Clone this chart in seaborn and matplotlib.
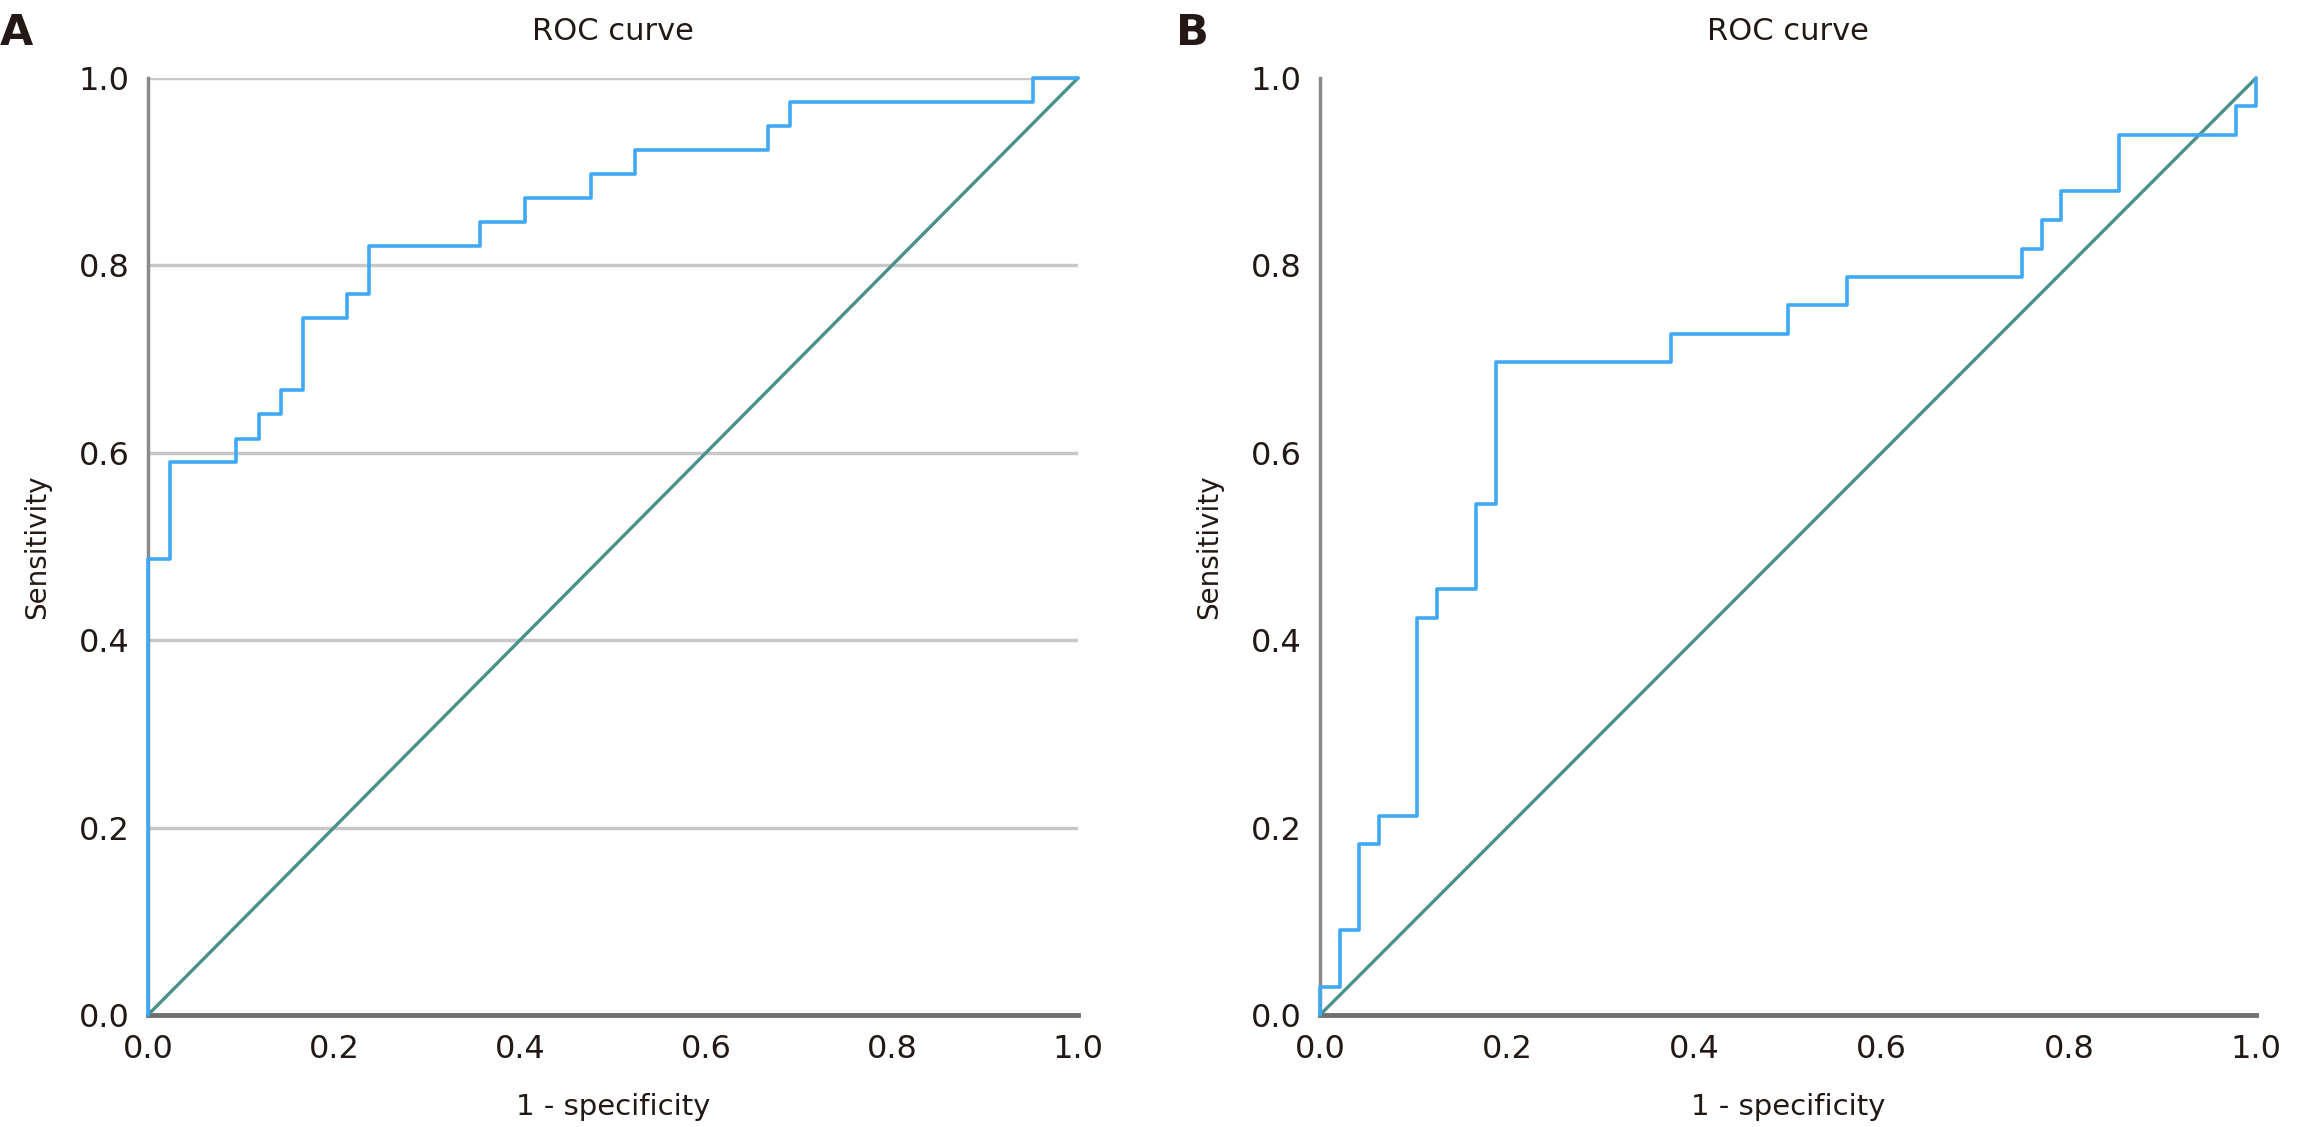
import pandas as pd
import seaborn as sns
import matplotlib.pyplot as plt

# ROC step vertices
fpr_a = [0, 0, 0.024, 0.024, 0.095, 0.095, 0.119, 0.119, 0.143, 0.143, 0.167, 0.167,
         0.214, 0.214, 0.238, 0.238, 0.357, 0.357, 0.405, 0.405, 0.476, 0.476,
         0.524, 0.524, 0.667, 0.667, 0.690, 0.690, 0.952, 0.952, 1.0]
tpr_a = [0, 0.487, 0.487, 0.590, 0.590, 0.615, 0.615, 0.641, 0.641, 0.667, 0.667,
         0.744, 0.744, 0.769, 0.769, 0.821, 0.821, 0.846, 0.846, 0.872, 0.872,
         0.897, 0.897, 0.923, 0.923, 0.949, 0.949, 0.974, 0.974, 1.0, 1.0]

fpr_b = [0, 0, 0.021, 0.021, 0.042, 0.042, 0.063, 0.063, 0.104, 0.104, 0.125, 0.125,
         0.167, 0.167, 0.188, 0.188, 0.375, 0.375, 0.5, 0.5, 0.563, 0.563,
         0.75, 0.75, 0.771, 0.771, 0.792, 0.792, 0.854, 0.854, 0.979, 0.979, 1.0, 1.0]
tpr_b = [0, 0.030, 0.030, 0.091, 0.091, 0.182, 0.182, 0.212, 0.212, 0.424, 0.424,
         0.455, 0.455, 0.545, 0.545, 0.697, 0.697, 0.727, 0.727, 0.758, 0.758,
         0.788, 0.788, 0.818, 0.818, 0.848, 0.848, 0.879, 0.879, 0.939, 0.939,
         0.970, 0.970, 1.0]

diag = [0, 1]
ticks = [0.0, 0.2, 0.4, 0.6, 0.8, 1.0]
panel_labels = ['A', 'B']

sns.set_style("white")
plt.rcParams['font.family'] = ['DejaVu Sans']

TXT = '#231815'
ROC_COLOR = '#3fa9f5'
DIAG_COLOR = '#4a918c'

fig = plt.figure(figsize=(23, 11.27), dpi=100)
ax_a = fig.add_axes([0.0643, 0.0994, 0.4044, 0.8314])
ax_b = fig.add_axes([0.5739, 0.0994, 0.4070, 0.8314])


def draw_panel(ax, fpr, tpr, grid):
    roc = pd.DataFrame({'fpr': fpr, 'tpr': tpr})
    ref = pd.DataFrame({'x': diag, 'y': diag})
    sns.lineplot(data=ref, x='x', y='y', ax=ax, color=DIAG_COLOR, lw=2.4,
                 estimator=None, sort=False, clip_on=False, zorder=3)
    sns.lineplot(data=roc, x='fpr', y='tpr', ax=ax, color=ROC_COLOR, lw=2.6,
                 estimator=None, sort=False, clip_on=False, zorder=4)
    ax.set_xlim(0, 1)
    ax.set_ylim(0, 1)
    ax.set_xticks(ticks)
    ax.set_yticks(ticks)
    ax.set_xticklabels([f'{t:.1f}' for t in ticks])
    ax.set_yticklabels([f'{t:.1f}' for t in ticks])
    ax.tick_params(axis='both', length=0, labelsize=23, colors=TXT)
    ax.tick_params(axis='x', pad=14)
    ax.tick_params(axis='y', pad=13)
    if grid:
        ax.yaxis.grid(True, color='#c8c8c8', lw=2.5)
        ax.set_axisbelow(True)
    else:
        ax.grid(False)
    for side in ['top', 'right']:
        ax.spines[side].set_visible(False)
    ax.spines['left'].set_color('#8a8a8a')
    ax.spines['left'].set_linewidth(2.5)
    ax.spines['bottom'].set_color('#707070')
    ax.spines['bottom'].set_linewidth(3.5)
    ax.set_title('ROC curve', fontsize=22, color=TXT, pad=27)
    ax.set_xlabel('1 - specificity', fontsize=21, color=TXT, labelpad=20)
    ax.set_ylabel('Sensitivity', fontsize=20, color=TXT, labelpad=20)


draw_panel(ax_a, fpr_a, tpr_a, grid=True)
draw_panel(ax_b, fpr_b, tpr_b, grid=False)

fig.text(0.0, 1 - 12 / 1127, panel_labels[0], fontsize=31, fontweight='bold',
         color=TXT, ha='left', va='top')
fig.text(1176 / 2300, 1 - 12 / 1127, panel_labels[1], fontsize=31, fontweight='bold',
         color=TXT, ha='left', va='top')

fig.savefig('out.png', dpi=100, facecolor='white')
